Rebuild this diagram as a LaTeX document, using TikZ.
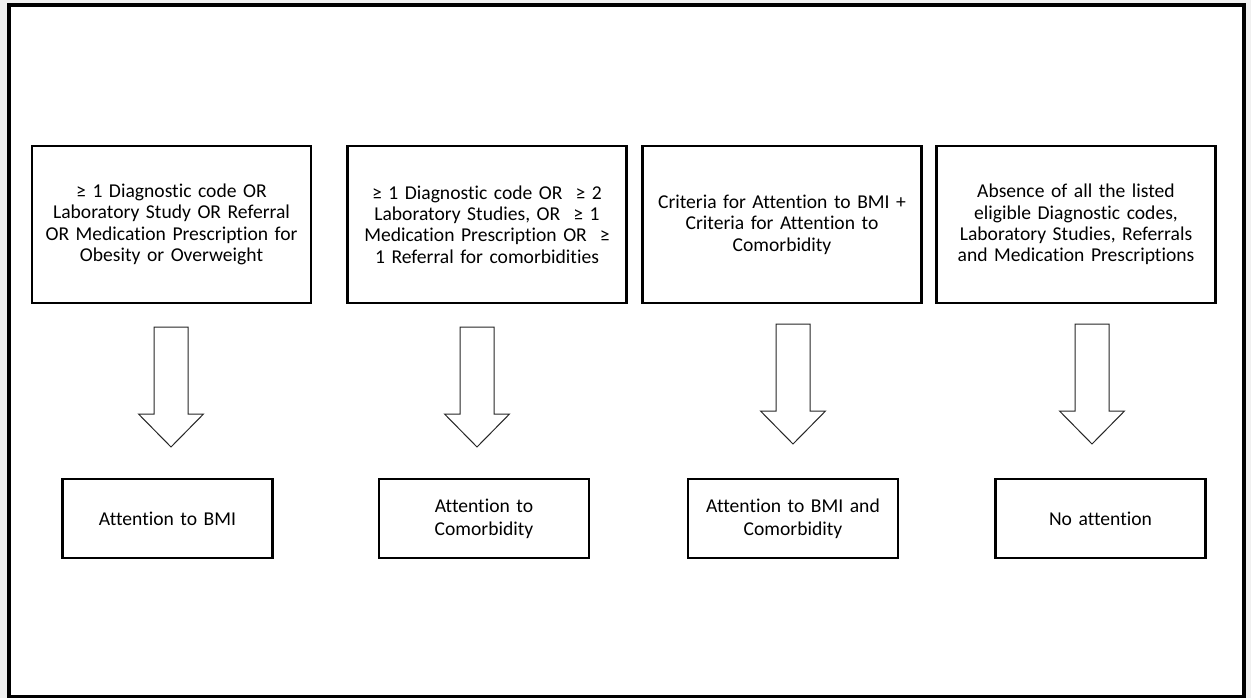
\documentclass[tikz,border=0pt]{standalone}
\usepackage{fontspec}
\setmainfont[RawFeature={-liga;-calt;-clig}]{Carlito}
\tikzset{
  crit/.style = {draw, line width=2.5pt, minimum width=279pt, minimum height=157pt,
                 text width=272pt, align=center, inner sep=0pt,
                 font=\fontsize{19.6}{21.4}\selectfont},
  result/.style = {draw, line width=2.5pt, minimum width=210pt, minimum height=79pt,
                   text width=200pt, align=center, inner sep=0pt,
                   font=\fontsize{19.6}{23}\selectfont},
  downarrow/.pic = {\draw[line width=1pt, draw=black!85]
      (-17,0) -- (17,0) -- (17,87) -- (32.5,87) -- (0,120) -- (-32.5,87) -- (-17,87) -- cycle;}
}
\begin{document}
\begin{tikzpicture}[x=1pt, y=-1pt]
    \useasboundingbox (0,0) rectangle (1251,698);
    \fill[gray!12] (0,0) rectangle (1251,698);
    \draw[line width=3.5pt, fill=white] (9,5) rectangle (1244,697);
    % criteria
    \node[crit] (t1) at (171.5,224.5) {≥ 1 Diagnostic code OR\\ Laboratory Study OR Referral\\ OR Medication Prescription for\\ Obesity or Overweight};
    \node[crit] (t2) at (487,224.5) {≥ 1 Diagnostic code OR \ ≥ 2\\ Laboratory Studies, OR \ ≥ 1\\ Medication Prescription OR \ ≥\\ 1 Referral for comorbidities};
    \node[crit] (t3) at (782,224.5) {Criteria for Attention to BMI +\\ Criteria for Attention to\\ Comorbidity};
    \node[crit] (t4) at (1076,224.5) {Absence of all the listed\\ eligible Diagnostic codes,\\ Laboratory Studies, Referrals\\ and Medication Prescriptions};
    % arrows
    \pic at (171,327) {downarrow};
    \pic at (477,327) {downarrow};
    \pic at (793,324) {downarrow};
    \pic at (1092,324) {downarrow};
    % outcomes
    \node[result] (b1) at (167.5,518.5) {Attention to BMI};
    \node[result] (b2) at (484,518.5) {Attention to\\ Comorbidity};
    \node[result] (b3) at (793,518.5) {Attention to BMI and\\ Comorbidity};
    \node[result] (b4) at (1100.5,518.5) {No attention};
\end{tikzpicture}
\end{document}
